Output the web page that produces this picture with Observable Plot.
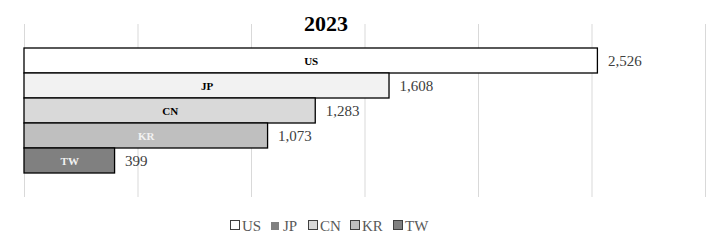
<!DOCTYPE html>
<html>
<head>
<meta charset="utf-8">
<script src="https://cdn.jsdelivr.net/npm/d3@7"></script>
<script src="https://cdn.jsdelivr.net/npm/@observablehq/plot@0.6"></script>
<style>
  html, body { margin: 0; padding: 0; background: #fff; }
  #wrap { position: relative; width: 716px; height: 245px; font-family: "Liberation Serif", "Times New Roman", serif; }
  #title { position: absolute; left: 0; width: 652px; top: 10px; text-align: center; font-size: 22px; font-weight: bold; color: #000; line-height: 28px; }
  #legend { position: absolute; left: 0; width: 716px; top: 216px; text-align: left; font-size: 15px; color: #595959; line-height: 20px; }
  #legend .item { position: absolute; top: 0; white-space: nowrap; }
  #legend .sw { display: inline-block; width: 8px; height: 8px; border: 1px solid #404040; margin-right: 2px; vertical-align: 1px; }
</style>
</head>
<body>
<div id="wrap">
  <div id="chart"></div>
  <div id="title">2023</div>
  <div id="legend"></div>
</div>
<script>
const countries = ["US", "JP", "CN", "KR", "TW"];
const values = [2526, 1608, 1283, 1073, 399];
const fills = ["#ffffff", "#f2f2f2", "#d9d9d9", "#bfbfbf", "#808080"];
const labelColors = ["#000000", "#000000", "#000000", "#f2f2f2", "#f2f2f2"];
const ticks = [0, 500, 1000, 1500, 2000, 2500, 3000];
const legendX = [230, 271, 308, 350, 393];

const data = countries.map((c, i) => ({country: c, value: values[i], labelColor: labelColors[i]}));
const fmt = d3.format(",");

const chart = Plot.plot({
  width: 716,
  height: 245,
  marginTop: 24,
  marginBottom: 48,
  marginLeft: 24,
  marginRight: 11,
  style: {fontFamily: "'Liberation Serif', 'Times New Roman', serif", background: "transparent"},
  x: {domain: [0, 3000], axis: null},
  y: {domain: countries, axis: null, paddingInner: 0, paddingOuter: 0.9},
  color: {domain: countries, range: fills, legend: false},
  marks: [
    Plot.gridX(ticks, {stroke: "#d9d9d9", strokeOpacity: 1, strokeWidth: 1}),
    Plot.barX(data, {x: "value", y: "country", fill: "country", stroke: "#000", strokeWidth: 1.3}),
    Plot.text(data, {x: d => d.value / 2, y: "country", text: "country", fill: "labelColor", fontWeight: "bold", fontSize: 11}),
    Plot.text(data, {x: "value", y: "country", text: d => fmt(d.value), textAnchor: "start", dx: 10, fill: "#404040", fontSize: 15})
  ]
});
document.getElementById("chart").appendChild(chart);

const legend = document.getElementById("legend");
countries.forEach((c, i) => {
  const item = document.createElement("span");
  item.className = "item";
  item.style.left = legendX[i] + "px";
  const sw = document.createElement("span");
  sw.className = "sw";
  sw.style.background = fills[i];
  if (c === "JP") { sw.style.background = "#808080"; sw.style.border = "none"; sw.style.width = "8px"; sw.style.height = "8px"; sw.style.marginRight = "4px"; }
  item.appendChild(sw);
  item.appendChild(document.createTextNode(c));
  legend.appendChild(item);
});
</script>
</body>
</html>
